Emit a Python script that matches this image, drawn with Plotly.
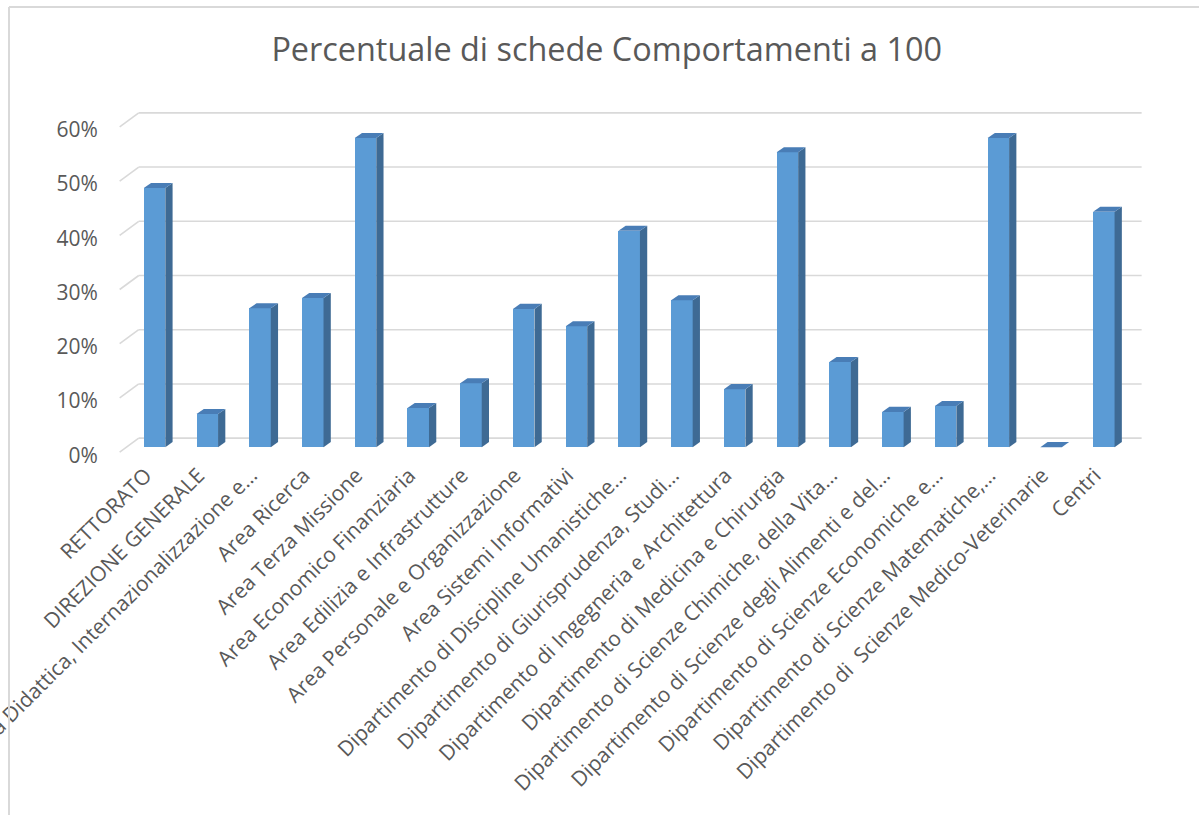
import plotly.graph_objects as go

categories = [
    "RETTORATO",
    "DIREZIONE GENERALE",
    "Area Didattica, Internazionalizzazione e…",
    "Area Ricerca",
    "Area Terza Missione",
    "Area Economico Finanziaria",
    "Area Edilizia e Infrastrutture",
    "Area Personale e Organizzazione",
    "Area Sistemi Informativi",
    "Dipartimento di Discipline Umanistiche…",
    "Dipartimento di Giurisprudenza, Studi…",
    "Dipartimento di Ingegneria e Architettura",
    "Dipartimento di Medicina e Chirurgia",
    "Dipartimento di Scienze Chimiche, della Vita…",
    "Dipartimento di Scienze degli Alimenti e del…",
    "Dipartimento di Scienze Economiche e…",
    "Dipartimento di Scienze Matematiche,…",
    "Dipartimento di \u00a0Scienze Medico-Veterinarie",
    "Centri",
]
values = [0.478, 0.061, 0.256, 0.275, 0.570, 0.072, 0.118, 0.255, 0.223,
          0.399, 0.271, 0.107, 0.544, 0.157, 0.065, 0.076, 0.570, 0.0, 0.434]
y_ticks = [0, 0.1, 0.2, 0.3, 0.4, 0.5, 0.6]
title_text = "Percentuale di schede Comportamenti a 100"

FRONT = "#5B9BD5"
SIDE = "#3E6A94"
TOP = "#497DB6"
GRID = "#D9D9D9"
TXT = "#595959"

idx = list(range(len(categories)))
bar_w = 0.408
dx = 0.138     # depth shift (x units)
dy = 0.0093    # depth shift (y units)

fig = go.Figure()
fig.add_trace(go.Bar(
    x=idx, y=values, width=bar_w,
    marker=dict(color=FRONT, line=dict(width=0)),
    hoverinfo="skip",
))

shapes = []
# back-wall gridlines and side-wall diagonals
x_front_left = -0.661
x_back_left = -0.30
x_back_right = 18.717
front_off = -0.0092
back_off = 0.0166
for t in y_ticks:
    shapes.append(dict(type="line", xref="x", yref="y", layer="below",
                       x0=x_back_left, x1=x_back_right, y0=t + back_off, y1=t + back_off,
                       line=dict(color=GRID, width=1.6)))
    shapes.append(dict(type="line", xref="x", yref="y", layer="below",
                       x0=x_front_left, x1=x_back_left, y0=t + front_off, y1=t + back_off,
                       line=dict(color=GRID, width=1.6)))

# 3D side and top faces of each bar
for i, v in zip(idx, values):
    xl = i - bar_w / 2
    xr = i + bar_w / 2
    if v > 0:
        shapes.append(dict(type="path", xref="x", yref="y", layer="above",
                           path=f"M {xr},0 L {xr+dx},{dy} L {xr+dx},{v+dy} L {xr},{v} Z",
                           fillcolor=SIDE, line=dict(width=0)))
    shapes.append(dict(type="path", xref="x", yref="y", layer="above",
                       path=f"M {xl},{v} L {xl+dx},{v+dy} L {xr+dx},{v+dy} L {xr},{v} Z",
                       fillcolor=TOP, line=dict(width=0)))

# chart frame
shapes.append(dict(type="line", xref="paper", yref="paper",
                   x0=-0.1028, x1=-0.1028, y0=1.30, y1=-1.05,
                   line=dict(color=GRID, width=2)))
shapes.append(dict(type="line", xref="paper", yref="paper",
                   x0=-0.1028, x1=1.06, y0=1.30, y1=1.30,
                   line=dict(color=GRID, width=2)))

fig.update_layout(
    template="none",
    width=1199, height=815,
    margin=dict(l=115, r=53, t=111, b=357),
    paper_bgcolor="white", plot_bgcolor="white",
    showlegend=False,
    title=dict(text=title_text, x=0.506, xref="container", xanchor="center",
               y=0.939, yref="container", yanchor="middle",
               font=dict(family="Open Sans", size=32.4, color=TXT)),
    font=dict(family="Open Sans", size=21, color=TXT),
    shapes=shapes,
    bargap=0,
)
fig.update_xaxes(
    range=[-0.75, 18.8], tickmode="array", tickvals=idx, ticktext=categories,
    tickangle=-45, showgrid=False, zeroline=False, showline=False,
    ticks="", ticklabelshift=-9, ticklabeloverflow="allow",
    automargin=False, fixedrange=True,
    tickfont=dict(family="Open Sans", size=21, color=TXT),
)
fig.update_yaxes(
    range=[-0.02, 0.62], tickmode="array", tickvals=y_ticks, tickformat=".0%",
    showgrid=False, zeroline=False, showline=False,
    ticks="outside", ticklen=12, tickcolor="rgba(0,0,0,0)",
    ticklabelshift=8,
    automargin=False, fixedrange=True,
    tickfont=dict(family="Open Sans", size=21, color=TXT),
)

fig.write_html("out.html", config={"displayModeBar": False},
               post_script="document.body.style.margin='0';document.body.style.overflow='hidden';")
